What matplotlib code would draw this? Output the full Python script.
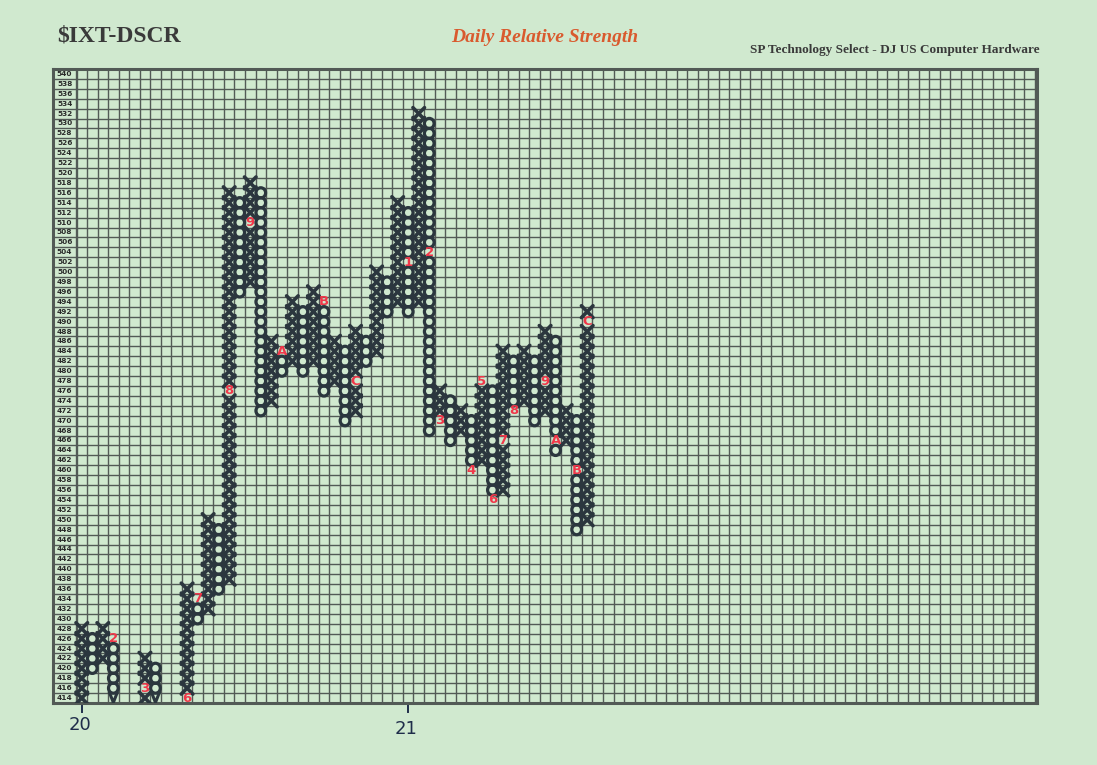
import matplotlib
matplotlib.use("Agg")
import matplotlib.pyplot as plt
from matplotlib.patches import Ellipse
from matplotlib.collections import LineCollection

# ---------------- data ----------------
col_index = [0, 1, 2, 3, 6, 7, 10, 11, 12, 13, 14, 15, 16, 17, 18, 19, 20, 21, 22, 23,
             24, 25, 26, 27, 28, 29, 30, 31, 32, 33, 34, 35, 36, 37, 38, 39, 40, 41, 42,
             43, 44, 45, 46, 47, 48]
col_type = ['X', 'O', 'X', 'O', 'X', 'O', 'X', 'O', 'X', 'O', 'X', 'O', 'X', 'O', 'X',
            'O', 'X', 'O', 'X', 'O', 'X', 'O', 'X', 'O', 'X', 'O', 'X', 'O', 'X', 'O',
            'X', 'O', 'X', 'O', 'X', 'O', 'X', 'O', 'X', 'O', 'X', 'O', 'X', 'O', 'X']
col_low = [414, 420, 422, 414, 414, 414, 414, 430, 432, 436, 438, 496, 498, 472, 474,
           480, 482, 480, 482, 476, 478, 470, 472, 482, 484, 492, 494, 492, 494, 468,
           470, 466, 468, 460, 462, 454, 456, 472, 474, 470, 472, 464, 466, 448, 450]
col_high = [428, 426, 428, 426, 422, 420, 436, 434, 450, 448, 516, 514, 518, 516, 486,
            484, 494, 492, 496, 494, 486, 484, 488, 486, 500, 498, 514, 512, 532, 530,
            476, 474, 472, 470, 478, 476, 484, 482, 484, 482, 488, 486, 472, 470, 492]

# month markers (column, value, text)
mark_col = [3, 6, 10, 11, 14, 16, 19, 23, 26, 31, 33, 34, 37, 38, 39, 40, 41, 44, 45, 47, 48]
mark_val = [426, 416, 414, 434, 476, 510, 484, 494, 478, 502, 504, 470, 460, 478, 454,
            466, 472, 478, 466, 460, 490]
mark_txt = ['2', '3', '6', '7', '8', '9', 'A', 'B', 'C', '1', '2', '3', '4', '5', '6',
            '7', '8', '9', 'A', 'B', 'C']

# continuation arrows at the chart floor
arrow_col = [3, 7]
arrow_val = [414, 414]

row_values = list(range(414, 541, 2))
year_col = [0, 31]
year_txt = ['20', '21']

# ---------------- styling ----------------
BG = '#d0e9cf'
GRID = '#525a56'
INK = '#2b363e'
RED = '#f0384a'

fig = plt.figure(figsize=(10.97, 7.65), dpi=100)
fig.patch.set_facecolor(BG)

W, H = 1097.0, 765.0
left_px, right_px, top_px, bot_px = 52.7, 1037.0, 69.0, 703.0
ax = fig.add_axes([left_px / W, 1 - bot_px / H, (right_px - left_px) / W, (bot_px - top_px) / H])
ax.set_facecolor(BG)

col_w_px = 10.53
x0 = -0.5 - (76.5 - left_px) / col_w_px
x1 = -0.5 + (right_px - 76.5) / col_w_px
ax.set_xlim(x0, x1)
ax.set_ylim(413, 541)
ax.set_xticks([])
ax.set_yticks([])
for s in ax.spines.values():
    s.set_color(GRID)
    s.set_linewidth(2.2)

# grid
ncols = int(x1 + 0.5)
for k in range(0, ncols + 1):
    xv = k - 0.5
    ax.plot([xv, xv], [413, 541], color=GRID, lw=1.7 if k == 0 else 1.0, zorder=1)
for v in row_values:
    ax.plot([x0, x1], [v - 1, v - 1], color=GRID, lw=1.0, zorder=1)

# row labels
xl = (x0 + (-0.5)) / 2
for v in row_values:
    ax.text(xl, v, str(v), ha='center', va='center', fontsize=5.3, fontweight='bold',
            color='#2a2a2a', family='DejaVu Sans', zorder=3)

# marks
skip = set(zip(mark_col, mark_val)) | set(zip(arrow_col, arrow_val))
segs = []
for c, t, lo, hi in zip(col_index, col_type, col_low, col_high):
    for v in range(lo, hi + 1, 2):
        if (c, v) in skip:
            continue
        if t == 'X':
            segs.append([(c - 0.55, v - 1.2), (c + 0.55, v + 1.2)])
            segs.append([(c - 0.55, v + 1.2), (c + 0.55, v - 1.2)])
        else:
            ax.add_patch(Ellipse((c, v), 0.92, 2.05, fill=False, ec=INK, lw=2.3, zorder=4))
ax.add_collection(LineCollection(segs, colors=INK, linewidths=2.6, zorder=4,
                                 capstyle='round'))

for c, v in zip(arrow_col, arrow_val):
    ax.plot([c - 0.35, c, c + 0.35], [v + 1.0, v - 0.9, v + 1.0], color=INK, lw=2.2, zorder=4)

for c, v, t in zip(mark_col, mark_val, mark_txt):
    ax.text(c, v, t, ha='center', va='center', fontsize=9.5, color=RED, zorder=5,
            fontweight='bold', family='DejaVu Sans')

# year markers below the grid
for c, t in zip(year_col, year_txt):
    ax.plot([c, c], [413, 411.2], color='#1f2d4a', lw=1.4, clip_on=False)
    ax.text(c - 0.2, 408.6 if c == 0 else 407.8, t, ha='center', va='center', fontsize=13,
            color='#1f2d4a', clip_on=False)

# titles
fig.text(57 / W, 1 - 36 / H, '$IXT-DSCR', ha='left', va='center', fontsize=17,
         fontweight='bold', family='Liberation Serif', color='#3a3a3a')
fig.text(545 / W, 1 - 37 / H, 'Daily Relative Strength', ha='center', va='center', fontsize=14,
         fontweight='bold', fontstyle='italic', family='Liberation Serif', color='#d95a2e')
fig.text(1040 / W, 1 - 50 / H, 'SP Technology Select - DJ US Computer Hardware', ha='right',
         va='center', fontsize=9.5, fontweight='bold', family='Liberation Serif', color='#3a3a3a')

fig.savefig('out.png', dpi=100, facecolor=BG)
